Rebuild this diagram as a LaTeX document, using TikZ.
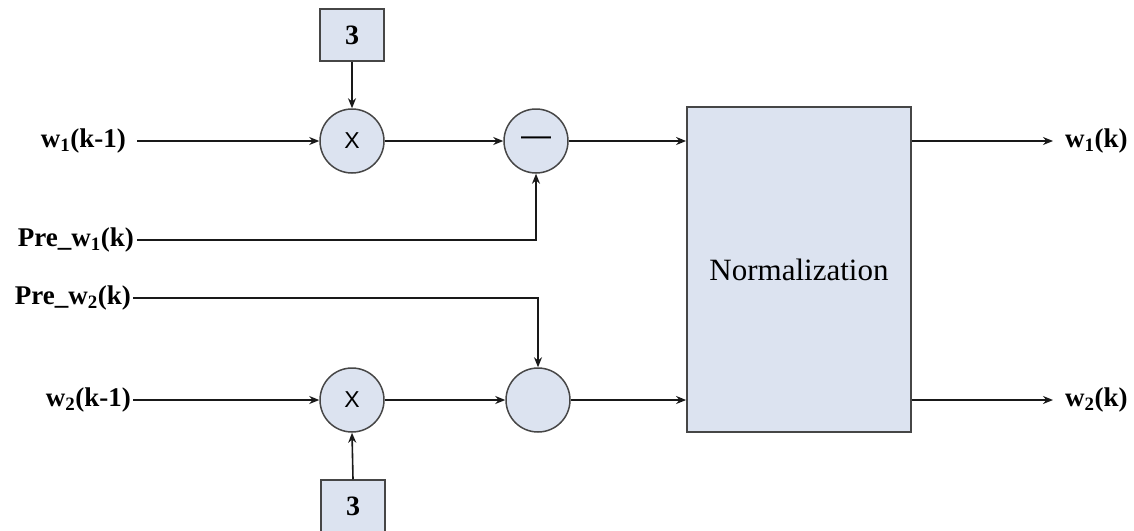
\documentclass[tikz,border=0pt]{standalone}
\usepackage{fontspec}
\setmainfont{Liberation Serif}
\newfontfamily\opfont{Liberation Sans}
\usetikzlibrary{arrows.meta}
\definecolor{blockfill}{RGB}{220,227,240}
\definecolor{blockline}{RGB}{70,70,70}
\definecolor{wire}{RGB}{25,25,25}
\tikzset{
  opnode/.style={circle, draw=blockline, line width=1.5pt, fill=blockfill,
    minimum size=64pt, inner sep=0pt, font=\opfont\fontsize{23}{26}\selectfont},
  constbox/.style={rectangle, draw=blockline, line width=1.5pt, fill=blockfill,
    minimum width=64pt, minimum height=52pt, inner sep=0pt,
    font=\bfseries\fontsize{28}{32}\selectfont},
  normbox/.style={rectangle, draw=blockline, line width=1.8pt, fill=blockfill,
    minimum width=224pt, minimum height=325pt, inner sep=0pt,
    font=\fontsize{31}{34}\selectfont},
  sig/.style={inner sep=0pt, font=\bfseries\fontsize{27}{30}\selectfont},
  wireline/.style={draw=wire, line width=1.6pt, -{Stealth[length=10pt,width=8pt]}}
}
\begin{document}
\begin{tikzpicture}[x=1pt,y=-1pt]
\useasboundingbox[fill=white] (0,0) rectangle (1134,530);
\begin{scope}
\clip (0,0) rectangle (1134,530);

% operator blocks
\node[constbox] (c3a) at (352,35) {3};
\node[opnode]   (mulA) at (352,141) {X};
\node[opnode]   (subA) at (536,141) {\fontsize{30}{30}\selectfont —};
\node[opnode]   (sumB) at (538,400) {};
\node[opnode]   (mulB) at (352,400) {X};
\node[constbox] (c3b) at (353,506) {3};
\node[normbox]  (norm) at (799,269.5) {Normalization};

% input and output signals
\node[sig, anchor=east] (in1)  at (126,141) {w\textsubscript{1}(k-1)};
\node[sig, anchor=east] (pre1) at (134,240) {Pre\_w\textsubscript{1}(k)};
\node[sig, anchor=east] (pre2) at (131,298) {Pre\_w\textsubscript{2}(k)};
\node[sig, anchor=east] (in2)  at (131,400) {w\textsubscript{2}(k-1)};
\node[sig, anchor=west] (out1) at (1065,141) {w\textsubscript{1}(k)};
\node[sig, anchor=west] (out2) at (1065,400) {w\textsubscript{2}(k)};

% upper branch
\draw[wireline] (c3a.south) -- (mulA.north);
\draw[wireline] ([xshift=11pt]in1.east) -- (mulA.west);
\draw[wireline] (mulA.east) -- (subA.west);
\draw[wireline] ([xshift=3pt]pre1.east) -| (subA.south);
\draw[wireline] (subA.east) -- (subA -| norm.west);

% lower branch
\draw[wireline] ([xshift=2pt]pre2.east) -| (sumB.north);
\draw[wireline] ([xshift=2pt]in2.east) -- (mulB.west);
\draw[wireline] (c3b.north) -- (mulB.south);
\draw[wireline] (mulB.east) -- (sumB.west);
\draw[wireline] (sumB.east) -- (sumB -| norm.west);

% outputs
\draw[wireline] (norm.east |- out1) -- ([xshift=-12pt]out1.west);
\draw[wireline] (norm.east |- out2) -- ([xshift=-12pt]out2.west);
\end{scope}
\end{tikzpicture}
\end{document}
